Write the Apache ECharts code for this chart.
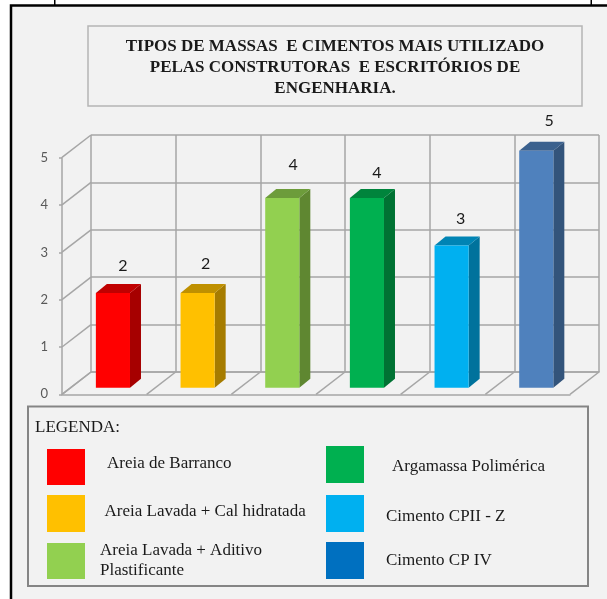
<!DOCTYPE html>
<html><head><meta charset="utf-8">
<style>html,body{margin:0;padding:0;background:#fff}#c{width:607px;height:599px}</style>
<script src="https://cdn.jsdelivr.net/npm/echarts@6/dist/echarts.min.js"></script>
</head><body><div id="c"></div>
<script>
const categories = ['Areia de Barranco','Areia Lavada + Cal hidratada','Areia Lavada + Aditivo\nPlastificante','Argamassa Polimérica','Cimento CPII - Z','Cimento CP IV'];
const values = [2,2,4,4,3,5];
const yTicks = [0,1,2,3,4,5];
const titleText = 'TIPOS DE MASSAS  E CIMENTOS MAIS UTILIZADO\nPELAS CONSTRUTORAS  E ESCRITÓRIOS DE\nENGENHARIA.';
const legendTitle = 'LEGENDA:';

// styles
const frontColors = ['#ff0000','#ffc000','#92d050','#00b050','#00b0f0','#4f81bd'];
const sideColors  = ['#a60000','#a67c00','#5f8731','#007233','#00729c','#33547b'];
const topColors   = ['#c00000','#bf9000','#6d9c3b','#00843c','#0084b4','#3b618e'];
const legendColors= ['#ff0000','#ffc000','#92d050','#00b050','#00b0f0','#0070c0'];
const labelShift  = [[10,-27],[8,-29],[11,-33],[10,-25],[9,-27],[13,-30]];
const legendPos = [
  {left:47, top:449, h:36, pad:17,   dy:-3},
  {left:47, top:495, h:37, pad:14.5, dy:-2},
  {left:47, top:541, h:36, pad:10,   dy:0},
  {left:326,top:446, h:37, pad:23,   dy:2},
  {left:326,top:495, h:37, pad:17,   dy:3.5},
  {left:326,top:542, h:37, pad:17,   dy:0}
];
const LEGEND_LH = 20;
const GRID_COLOR = '#a6a6a6';
const DEPTH = [29, 22.4];
const BAR_DEPTH = [11, 9];
const SERIF = '"Liberation Serif","Times New Roman",serif';

const chart = echarts.init(document.getElementById('c'), null, {renderer:'canvas'});

function renderBar(params, api){
  const i = api.value(0), v = api.value(1);
  const t = api.coord([i,v]), b = api.coord([i,0]);
  const w = api.size([1,0])[0]*0.403;
  const l = t[0]-w/2, r = t[0]+w/2, dx = BAR_DEPTH[0], dy = BAR_DEPTH[1];
  const si = params.seriesIndex - 1;
  const poly = (pts,fill)=>({type:'polygon',shape:{points:pts},style:{fill}});
  return {type:'group',children:[
    poly([[r,t[1]],[r+dx,t[1]-dy],[r+dx,b[1]-dy],[r,b[1]]],sideColors[si]),
    poly([[l,t[1]],[l+dx,t[1]-dy],[r+dx,t[1]-dy],[r,t[1]]],topColors[si]),
    poly([[l,t[1]],[r,t[1]],[r,b[1]],[l,b[1]]],frontColors[si]),
    {type:'text',style:{text:String(v),x:l+17+labelShift[si][0],y:t[1]+labelShift[si][1],align:'center',verticalAlign:'middle',
      font:'16px Lato, "Open Sans", sans-serif',fill:'#1a1a1a'}}
  ]};
}
function renderSlant(params, api){
  const p = api.coord([api.value(0),api.value(1)]);
  return {type:'line',shape:{x1:p[0],y1:p[1],x2:p[0]-DEPTH[0],y2:p[1]+DEPTH[1]},
    style:{stroke:GRID_COLOR,lineWidth:1.5}};
}
const slantData = yTicks.map(v=>[0,v]).concat(categories.map((c,i)=>[i,0]),[[categories.length,0]]);

function legendFor(c,i){
  const p = legendPos[i];
  return {
    left:p.left, top:p.top, padding:0,
    itemWidth:38, itemHeight:p.h, selectedMode:false, orient:'vertical',
    data:[{name:c,icon:'rect',itemStyle:{color:legendColors[i]}}],
    // a blank line before or after the name nudges it down or up next to its swatch
    formatter: n => p.dy>0 ? '\n'+n : p.dy<0 ? n+'\n' : n,
    textStyle:{fontFamily:SERIF,fontSize:17,color:'#1a1a1a',
      lineHeight: p.dy ? 2*Math.abs(p.dy) : LEGEND_LH,
      padding:[0,0,0,p.pad]}
  };
}

chart.setOption({
  animation:false,
  backgroundColor:'#ffffff',
  title:{text:titleText,left:335,top:36,textAlign:'center',padding:0,
    textStyle:{fontFamily:SERIF,fontSize:17,fontWeight:'bold',color:'#1a1a1a',lineHeight:21}},
  grid:[
    {left:91,  top:135,   width:508,height:237,  containLabel:false},
    {left:62,  top:157.7, width:508,height:236.6,containLabel:false},
    {left:70.6,top:150.7, width:508,height:237,  containLabel:false}
  ],
  xAxis:[
    {gridIndex:0,type:'category',data:categories,axisLabel:{show:false},axisTick:{show:false},
      axisLine:{show:true,lineStyle:{color:GRID_COLOR,width:1.5}},
      splitLine:{show:true,interval:0,lineStyle:{color:GRID_COLOR,width:1.5}}},
    {gridIndex:1,type:'category',data:categories,axisLabel:{show:false},axisTick:{show:false},
      axisLine:{show:true,lineStyle:{color:GRID_COLOR,width:1.5}}},
    {gridIndex:2,type:'category',data:categories,show:false},
    {gridIndex:0,type:'value',min:0,max:categories.length,show:false}
  ],
  yAxis:[
    {gridIndex:0,type:'value',min:0,max:5,interval:1,axisLabel:{show:false},axisTick:{show:false},
      axisLine:{show:false},splitLine:{show:true,lineStyle:{color:GRID_COLOR,width:1.5}}},
    {gridIndex:1,type:'value',min:0,max:5,interval:1,
      axisLine:{show:true,lineStyle:{color:GRID_COLOR,width:1.5}},
      axisTick:{show:true,length:3,lineStyle:{color:GRID_COLOR,width:1.5}},
      splitLine:{show:false},
      axisLabel:{color:'#595959',fontFamily:'Lato, "Open Sans", sans-serif',fontSize:13,margin:14}},
    {gridIndex:2,type:'value',min:0,max:5,interval:1,show:false}
  ],
  legend: categories.map(legendFor),
  series:[
    {type:'custom',name:'frame',xAxisIndex:3,yAxisIndex:0,renderItem:renderSlant,data:slantData,silent:true,z:1},
    ...categories.map((c,i)=>({
      type:'custom',name:c,xAxisIndex:2,yAxisIndex:2,renderItem:renderBar,
      encode:{x:0,y:1},itemStyle:{color:frontColors[i]},data:[[i,values[i]]],z:3,clip:false,silent:true
    }))
  ],
  graphic:{elements:[
    {type:'rect',z:-10,shape:{x:11,y:5.5,width:640,height:640},style:{fill:'#f2f2f2',stroke:'#000',lineWidth:2.5}},
    {type:'rect',z:-9,shape:{x:54,y:0,width:1.5,height:5},style:{fill:'#000'}},
    {type:'rect',z:-9,shape:{x:590.5,y:0,width:1.5,height:5},style:{fill:'#000'}},
    {type:'rect',z:-9,shape:{x:88,y:26,width:494,height:80},style:{fill:'#f2f2f2',stroke:'#b5b5b5',lineWidth:1.5}},
    {type:'rect',z:-9,shape:{x:28,y:406.5,width:560,height:179.5},style:{fill:'#f2f2f2',stroke:'#858585',lineWidth:2}},
    {type:'text',z:5,x:35,y:428,style:{text:legendTitle,font:'17px '+SERIF,fill:'#1a1a1a',verticalAlign:'middle'}}
  ]}
});
</script></body></html>
